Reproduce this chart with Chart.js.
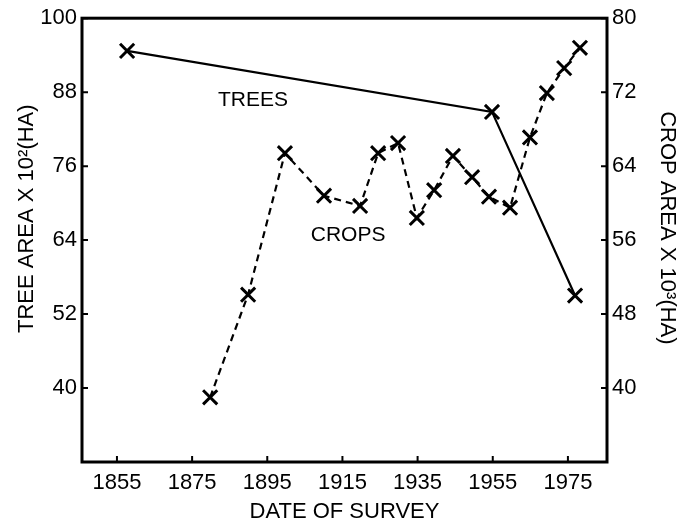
<!DOCTYPE html>
<html>
<head>
<meta charset="utf-8">
<script src="https://cdn.jsdelivr.net/npm/chart.js@4.4.1/dist/chart.umd.min.js"></script>
<style>
  body { margin: 0; background: #fff; }
  #wrap { width: 689px; height: 523px; }
</style>
</head>
<body>
<div id="wrap"><canvas id="surveyChart" width="689" height="523"></canvas></div>
<script>
// =============================================
//  DATA
// =============================================
const treeYears = [1857.7, 1954.8, 1976.9];
const treeArea  = [94.7, 84.8, 55.0];

const cropYears = [1879.8, 1889.9, 1899.7, 1910.1, 1919.7, 1924.5, 1929.8, 1934.8, 1939.4,
                   1944.4, 1949.5, 1954.0, 1959.6, 1964.9, 1969.4, 1974.0, 1978.2];
const cropArea  = [39.0, 50.1, 65.4, 60.8, 59.7, 65.4, 66.5, 58.4, 61.4,
                   65.1, 62.8, 60.7, 59.5, 67.1, 71.9, 74.6, 76.8];

const yearTicks = [1855, 1875, 1895, 1915, 1935, 1955, 1975];
const treeTicks = [40, 52, 64, 76, 88, 100];
const cropTicks = [40, 48, 56, 64, 72, 80];

const FONT = '"Liberation Sans", Arial, sans-serif';

function toPoints(xs, ys) {
  return xs.map((x, i) => ({ x, y: ys[i] }));
}

// =============================================
//  FRAME, INWARD TICKS AND IN-PLOT LABELS
// =============================================
const framePlugin = {
  id: 'frame',
  afterDraw(chart) {
    const { ctx, chartArea: a, scales } = chart;
    ctx.save();
    ctx.strokeStyle = '#000';
    ctx.lineWidth = 3;
    ctx.strokeRect(a.left, a.top, a.right - a.left, a.bottom - a.top);

    ctx.lineWidth = 2;
    ctx.beginPath();
    yearTicks.forEach(v => {
      const x = scales.x.getPixelForValue(v);
      ctx.moveTo(x, a.bottom); ctx.lineTo(x, a.bottom - 6);
    });
    treeTicks.forEach(v => {
      const y = scales.yTrees.getPixelForValue(v);
      ctx.moveTo(a.left, y); ctx.lineTo(a.left + 6, y);
    });
    cropTicks.forEach(v => {
      const y = scales.yCrops.getPixelForValue(v);
      ctx.moveTo(a.right, y); ctx.lineTo(a.right - 6, y);
    });
    ctx.stroke();

    ctx.fillStyle = '#000';
    ctx.font = '21px ' + FONT;
    ctx.textAlign = 'center';
    ctx.textBaseline = 'middle';
    ctx.fillText('TREES', scales.x.getPixelForValue(1891.2), scales.yTrees.getPixelForValue(86.7));
    ctx.fillText('CROPS', scales.x.getPixelForValue(1916.5), scales.yCrops.getPixelForValue(56.5));
    ctx.restore();
  }
};

// =============================================
//  CHART
// =============================================
const ctx = document.getElementById('surveyChart').getContext('2d');

const tickFont = { family: FONT, size: 22 };
const noGrid = { display: false, drawTicks: false, tickLength: 0 };

new Chart(ctx, {
  type: 'line',
  data: {
    datasets: [
      {
        label: 'Trees',
        data: toPoints(treeYears, treeArea),
        yAxisID: 'yTrees',
        borderColor: '#000',
        borderWidth: 2.2,
        pointStyle: 'crossRot',
        pointRadius: 10,
        pointBorderWidth: 3,
        pointBorderColor: '#000',
        tension: 0
      },
      {
        label: 'Crops',
        data: toPoints(cropYears, cropArea),
        yAxisID: 'yCrops',
        borderColor: '#000',
        borderWidth: 2.2,
        borderDash: [7, 5],
        pointStyle: 'crossRot',
        pointRadius: 10,
        pointBorderWidth: 3,
        pointBorderColor: '#000',
        tension: 0
      }
    ]
  },
  options: {
    responsive: false,
    animation: false,
    devicePixelRatio: 1,
    layout: { padding: { top: 17, left: 0, right: 0, bottom: 0 } },
    plugins: { legend: { display: false }, tooltip: { enabled: false } },
    scales: {
      x: {
        type: 'linear',
        min: 1845.7,
        max: 1985.4,
        afterBuildTicks: s => { s.ticks = yearTicks.map(v => ({ value: v })); },
        afterFit: s => { s.height = 61; },
        grid: noGrid,
        border: { display: false },
        ticks: { color: '#000', font: tickFont, padding: 8, callback: v => String(v) },
        title: {
          display: true,
          text: 'DATE OF SURVEY',
          color: '#000',
          font: { family: FONT, size: 22, lineHeight: 1 },
          padding: { top: 0, bottom: 0 }
        }
      },
      yTrees: {
        type: 'linear',
        position: 'left',
        min: 28,
        max: 100,
        afterBuildTicks: s => { s.ticks = treeTicks.map(v => ({ value: v })); },
        afterFit: s => { s.width = 82; },
        grid: noGrid,
        border: { display: false },
        ticks: { color: '#000', font: tickFont, padding: 5 },
        title: {
          display: true,
          text: '       TREE AREA X 10\u00B2(HA)',
          color: '#000',
          font: { family: FONT, size: 22, lineHeight: 1 },
          padding: { top: 16, bottom: 0 }
        }
      },
      yCrops: {
        type: 'linear',
        position: 'right',
        min: 32,
        max: 80,
        afterBuildTicks: s => { s.ticks = cropTicks.map(v => ({ value: v })); },
        afterFit: s => { s.width = 82; },
        grid: noGrid,
        border: { display: false },
        ticks: { color: '#000', font: tickFont, padding: 5 },
        title: {
          display: true,
          text: 'CROP AREA X 10\u00B3(HA)    ',
          color: '#000',
          font: { family: FONT, size: 22, lineHeight: 1 },
          padding: { top: 11, bottom: 0 }
        }
      }
    }
  },
  plugins: [framePlugin]
});
</script>
</body>
</html>
